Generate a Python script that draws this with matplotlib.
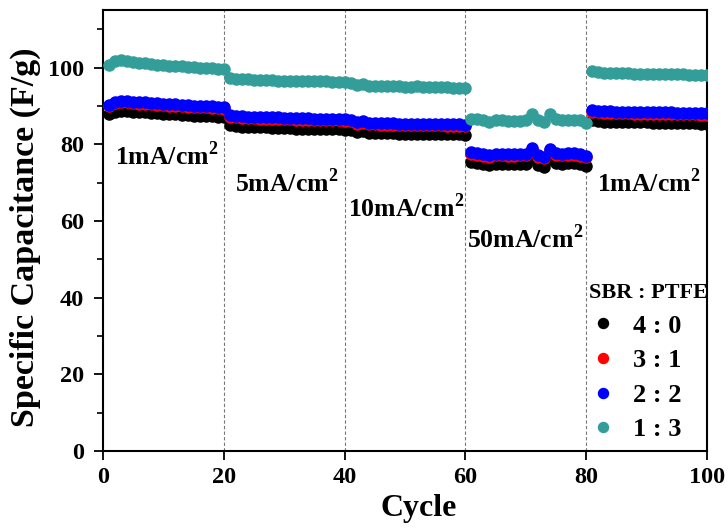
import matplotlib
matplotlib.use("Agg")
import matplotlib.pyplot as plt
import numpy as np

plt.rcParams['font.family'] = ['Liberation Serif', 'DejaVu Serif']
plt.rcParams['font.weight'] = 'bold'
plt.rcParams['mathtext.fontset'] = 'custom'
plt.rcParams['mathtext.rm'] = 'Liberation Serif:bold'
plt.rcParams['mathtext.bf'] = 'Liberation Serif:bold'

cycles = list(range(1, 101))

s40 = [87.8, 88.5, 88.8, 88.7, 88.5, 88.4, 88.3, 88.2, 88.1, 88.0, 87.9, 87.8, 87.7, 87.6, 87.5, 87.4, 87.4, 87.3, 87.2, 87.1,
       84.9, 84.7, 84.6, 84.5, 84.5, 84.4, 84.4, 84.3, 84.3, 84.2, 84.2, 84.1, 84.1, 84.1, 84.0, 84.0, 83.9, 83.9, 83.9, 83.8,
       83.7, 83.2, 83.4, 83.0, 83.0, 82.9, 82.9, 82.9, 82.8, 82.8, 82.8, 82.8, 82.7, 82.7, 82.7, 82.7, 82.6, 82.6, 82.6, 82.5,
       75.3, 75.1, 74.8, 74.6, 74.9, 74.9, 74.8, 74.8, 74.9, 74.9, 76.4, 74.6, 74.2, 76.1, 75.0, 74.9, 75.0, 75.0, 74.8, 74.4,
       86.2, 86.0, 85.9, 85.9, 85.8, 85.8, 85.8, 85.7, 85.7, 85.7, 85.6, 85.6, 85.6, 85.6, 85.5, 85.5, 85.5, 85.5, 85.4, 85.4]

s31 = [89.9, 90.7, 91.0, 90.9, 90.7, 90.6, 90.5, 90.4, 90.3, 90.2, 90.1, 90.0, 89.9, 89.8, 89.7, 89.6, 89.6, 89.5, 89.4, 89.3,
       87.2, 87.0, 86.9, 86.8, 86.8, 86.7, 86.7, 86.6, 86.6, 86.5, 86.5, 86.4, 86.4, 86.4, 86.3, 86.3, 86.2, 86.2, 86.2, 86.1,
       86.0, 85.4, 85.6, 85.2, 85.2, 85.1, 85.1, 85.1, 85.0, 85.0, 85.0, 85.0, 84.9, 84.9, 84.9, 84.9, 84.8, 84.8, 84.8, 84.7,
       77.5, 77.3, 77.0, 76.8, 77.1, 77.1, 77.0, 77.0, 77.1, 77.1, 78.7, 76.8, 76.4, 78.4, 77.2, 77.1, 77.2, 77.2, 77.0, 76.6,
       88.5, 88.3, 88.2, 88.2, 88.1, 88.1, 88.1, 88.0, 88.0, 88.0, 87.9, 87.9, 87.9, 87.9, 87.8, 87.8, 87.8, 87.8, 87.7, 87.7]

s22 = [90.3, 91.1, 91.4, 91.3, 91.1, 91.0, 90.9, 90.8, 90.7, 90.6, 90.5, 90.4, 90.3, 90.2, 90.1, 90.0, 90.0, 89.9, 89.8, 89.7,
       87.6, 87.4, 87.3, 87.2, 87.2, 87.1, 87.1, 87.0, 87.0, 86.9, 86.9, 86.8, 86.8, 86.8, 86.7, 86.7, 86.6, 86.6, 86.6, 86.5,
       86.4, 85.8, 86.0, 85.6, 85.6, 85.5, 85.5, 85.5, 85.4, 85.4, 85.4, 85.4, 85.3, 85.3, 85.3, 85.3, 85.2, 85.2, 85.2, 85.1,
       77.9, 77.7, 77.4, 77.2, 77.5, 77.5, 77.4, 77.4, 77.5, 77.5, 79.1, 77.2, 76.8, 78.8, 77.6, 77.5, 77.6, 77.6, 77.4, 77.0,
       88.9, 88.7, 88.6, 88.6, 88.5, 88.5, 88.5, 88.4, 88.4, 88.4, 88.3, 88.3, 88.3, 88.3, 88.2, 88.2, 88.2, 88.2, 88.1, 88.1]

s13 = [100.8, 101.6, 101.9, 101.7, 101.5, 101.3, 101.1, 100.9, 100.8, 100.6, 100.5, 100.4, 100.3, 100.2, 100.1, 100.0, 99.9, 99.8, 99.7, 99.6,
       97.2, 97.0, 96.9, 96.9, 96.8, 96.8, 96.7, 96.7, 96.6, 96.6, 96.6, 96.5, 96.5, 96.5, 96.4, 96.4, 96.4, 96.3, 96.3, 96.2,
       96.0, 95.4, 95.7, 95.3, 95.2, 95.2, 95.1, 95.1, 95.1, 95.0, 95.0, 95.1, 95.0, 94.9, 95.0, 94.9, 94.9, 94.8, 94.8, 94.7,
       86.7, 86.6, 86.2, 85.9, 86.3, 86.2, 86.1, 86.1, 86.1, 86.2, 88.0, 86.4, 85.8, 87.9, 86.5, 86.2, 86.4, 86.4, 86.3, 85.6,
       99.0, 98.8, 98.7, 98.6, 98.6, 98.5, 98.5, 98.4, 98.4, 98.4, 98.3, 98.3, 98.3, 98.2, 98.2, 98.2, 98.1, 98.1, 98.1, 98.0]

labels = ['4 : 0', '3 : 1', '2 : 2', '1 : 3']
colors = ['#000000', '#FF0000', '#0000FF', '#339E99']
series = [s40, s31, s22, s13]

rate_labels = ['1mA/cm$^2$', '5mA/cm$^2$', '10mA/cm$^2$', '50mA/cm$^2$', '1mA/cm$^2$']
rate_x = [2, 21.8, 40.6, 60.3, 81.8]
rate_y = [77, 70, 63.5, 55.5, 70]
boundaries = [20, 40, 60, 80]

fig = plt.figure(figsize=(7.28, 5.29), dpi=100)
ax = fig.add_axes([0.1415, 0.1474, 0.8295, 0.8336])

for b in boundaries:
    ax.axvline(b, color='#777777', lw=0.8, ls=(0, (3, 2)), zorder=1)

for s, c, l in zip(series, colors, labels):
    ax.plot(cycles, s, 'o', color=c, ms=8, mec=c, label=l, zorder=3)

for t, x, y in zip(rate_labels, rate_x, rate_y):
    ax.text(x, y, t, fontsize=18.5, fontweight='bold', ha='left', va='center')

ax.set_xlim(0, 100)
ax.set_ylim(0, 115)
ax.set_xticks([0, 20, 40, 60, 80, 100])
ax.set_yticks([0, 20, 40, 60, 80, 100])
ax.set_yticks(np.arange(10, 115, 20), minor=True)
ax.tick_params(axis='both', which='major', direction='out', length=6.5, width=1.3, labelsize=17.5, pad=5)
ax.tick_params(axis='y', which='major', pad=7)
ax.tick_params(axis='y', which='minor', direction='out', length=4, width=1.2)
for lab in ax.get_xticklabels() + ax.get_yticklabels():
    lab.set_fontweight('bold')
for sp in ax.spines.values():
    sp.set_linewidth(1.5)

ax.set_xlabel('Cycle', fontsize=23, fontweight='bold')
ax.set_ylabel('Specific Capacitance (F/g)', fontsize=24.5, fontweight='bold')
ax.xaxis.set_label_coords(0.523, -0.097)
ax.yaxis.set_label_coords(-0.103, 0.485)

leg = ax.legend(title='SBR : PTFE', loc='lower right', bbox_to_anchor=(1.033, -0.02), frameon=False,
                markerscale=0.9, fontsize=19, title_fontsize=16, handletextpad=0.65,
                labelspacing=0.42, handlelength=1.0, borderaxespad=0.3, alignment='left')
leg.get_title().set_fontweight('bold')
for t in leg.get_texts():
    t.set_fontweight('bold')

fig.savefig('out.png', dpi=100)
